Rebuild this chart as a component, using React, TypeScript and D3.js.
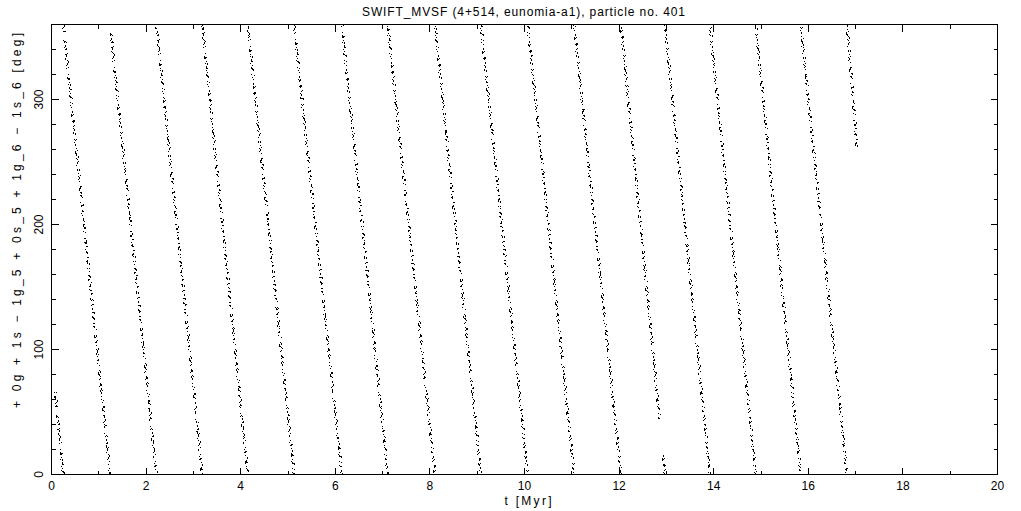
import React from 'react';
import * as d3 from 'd3';

const title = 'SWIFT_MVSF (4+514, eunomia-a1), particle no. 401';
const xLabel = 't [Myr]';
const yLabel = '+ 0g + 1s \u2212 1g_5 + 0s_5 + 1g_6 \u2212 1s_6 [deg]';
const xMajorTicks = [0, 2, 4, 6, 8, 10, 12, 14, 16, 18, 20];
const xMinorTicks = [1, 3, 5, 7, 9, 11, 13, 15, 17, 19];
const yMajorTicks = [0, 100, 200, 300];
const yMinorTicks = [20, 40, 60, 80, 120, 140, 160, 180, 220, 240, 260, 280, 320, 340];

// times (Myr) where the angle wraps from 0 back to 360 deg
const wrapTimes = [0.25, 1.24, 2.22, 3.19, 4.15, 5.13, 6.14, 7.11, 8.11, 9.08, 10.07, 11.05, 12.04, 12.97, 13.92, 14.89, 15.84, 16.82];
const firstPoint: [number, number] = [0.08, 66];
const lastPoint: [number, number] = [17.03, 262];
// visible gaps in stripes: stripe index (starting at wrapTimes[i]), angle range without points
const gapStripe = [12];
const gapHigh = [43];
const gapLow = [18];

const W = 1021;
const H = 511;

export default function App() {
  const x = d3.scaleLinear().domain([0, 20]).range([51.5, 997.5]);
  const y = d3.scaleLinear().domain([0, 360]).range([474.5, 24.5]);

  type Seg = [number, number, number, number];
  const stripes: { pieces: Seg[] }[] = [];
  stripes.push({ pieces: [[firstPoint[0], firstPoint[1], wrapTimes[0], 0]] });
  for (let i = 0; i < wrapTimes.length; i++) {
    const t0 = wrapTimes[i];
    const v0 = 360;
    const t1 = i + 1 < wrapTimes.length ? wrapTimes[i + 1] : lastPoint[0];
    const v1 = i + 1 < wrapTimes.length ? 0 : lastPoint[1];
    const gi = gapStripe.indexOf(i);
    if (gi >= 0) {
      const tAt = (v: number) => t0 + ((v0 - v) / (v0 - v1)) * (t1 - t0);
      stripes.push({
        pieces: [
          [t0, v0, tAt(gapHigh[gi]), gapHigh[gi]],
          [tAt(gapLow[gi]), gapLow[gi], t1, v1],
        ],
      });
    } else {
      stripes.push({ pieces: [[t0, v0, t1, v1]] });
    }
  }

  const line = d3
    .line<[number, number]>()
    .x((d) => x(d[0]))
    .y((d) => y(d[1]));

  const layers = [
    { dx: -1, dash: '1 3 2 5 1 2 1 8 3 4 1 6', off: 0 },
    { dx: 0, dash: '2 2 1 4 3 3 1 2 2 9 1 3', off: 5 },
    { dx: 1, dash: '1 5 2 3 1 7 2 4 1 10', off: 11 },
  ];

  const font = "'Liberation Sans', Arial, sans-serif";

  return (
    <svg
      width={W}
      height={H}
      style={{ position: 'absolute', left: 0, top: 0, background: '#fff' }}
      xmlns="http://www.w3.org/2000/svg"
    >
      <rect x={0} y={0} width={W} height={H} fill="#fff" />
      <g stroke="#000" strokeWidth={1} fill="none" shapeRendering="crispEdges">
        {stripes.map((s, si) =>
          s.pieces.map((p, pi) =>
            layers.map((l, li) => (
              <path
                key={`${si}-${pi}-${li}`}
                d={line([[p[0], p[1]], [p[2], p[3]]]) || ''}
                transform={`translate(${l.dx},0)`}
                strokeDasharray={l.dash}
                strokeDashoffset={l.off + si * 7}
              />
            ))
          )
        )}
      </g>
      <rect
        x={x(0)}
        y={y(360)}
        width={x(20) - x(0)}
        height={y(0) - y(360)}
        fill="none"
        stroke="#000"
        strokeWidth={1}
        shapeRendering="crispEdges"
      />
      <g stroke="#000" strokeWidth={1} shapeRendering="crispEdges">
        {xMajorTicks.map((t) => (
          <g key={`xM${t}`}>
            <line x1={x(t)} x2={x(t)} y1={y(0)} y2={y(0) - 7} />
            <line x1={x(t)} x2={x(t)} y1={y(360)} y2={y(360) + 7} />
          </g>
        ))}
        {xMinorTicks.map((t) => (
          <g key={`xm${t}`}>
            <line x1={x(t)} x2={x(t)} y1={y(0)} y2={y(0) - 4} />
            <line x1={x(t)} x2={x(t)} y1={y(360)} y2={y(360) + 4} />
          </g>
        ))}
        {yMajorTicks.map((v) => (
          <g key={`yM${v}`}>
            <line x1={x(0)} x2={x(0) + 7} y1={y(v)} y2={y(v)} />
            <line x1={x(20)} x2={x(20) - 7} y1={y(v)} y2={y(v)} />
          </g>
        ))}
        {yMinorTicks.map((v) => (
          <g key={`ym${v}`}>
            <line x1={x(0)} x2={x(0) + 4} y1={y(v)} y2={y(v)} />
            <line x1={x(20)} x2={x(20) - 4} y1={y(v)} y2={y(v)} />
          </g>
        ))}
      </g>
      <g fontFamily={font} fontSize={12} fill="#000">
        {xMajorTicks.map((t) => (
          <text key={`xl${t}`} x={x(t)} y={490} textAnchor="middle">
            {t}
          </text>
        ))}
        {yMajorTicks.map((v) => (
          <text
            key={`yl${v}`}
            transform={`translate(43,${y(v)}) rotate(-90)`}
            textAnchor="middle"
          >
            {v}
          </text>
        ))}
      </g>
      <text
        x={523.5}
        y={16}
        textAnchor="middle"
        fontFamily={font}
        fontSize={12}
        textLength={323}
        lengthAdjust="spacing"
      >
        {title}
      </text>
      <text
        x={528}
        y={505}
        textAnchor="middle"
        fontFamily={font}
        fontSize={12}
        textLength={47}
        lengthAdjust="spacing"
      >
        {xLabel}
      </text>
      <text
        transform={`translate(21,220.5) rotate(-90)`}
        textAnchor="middle"
        fontFamily={font}
        fontSize={12}
        textLength={375}
        lengthAdjust="spacing"
      >
        {yLabel}
      </text>
    </svg>
  );
}
